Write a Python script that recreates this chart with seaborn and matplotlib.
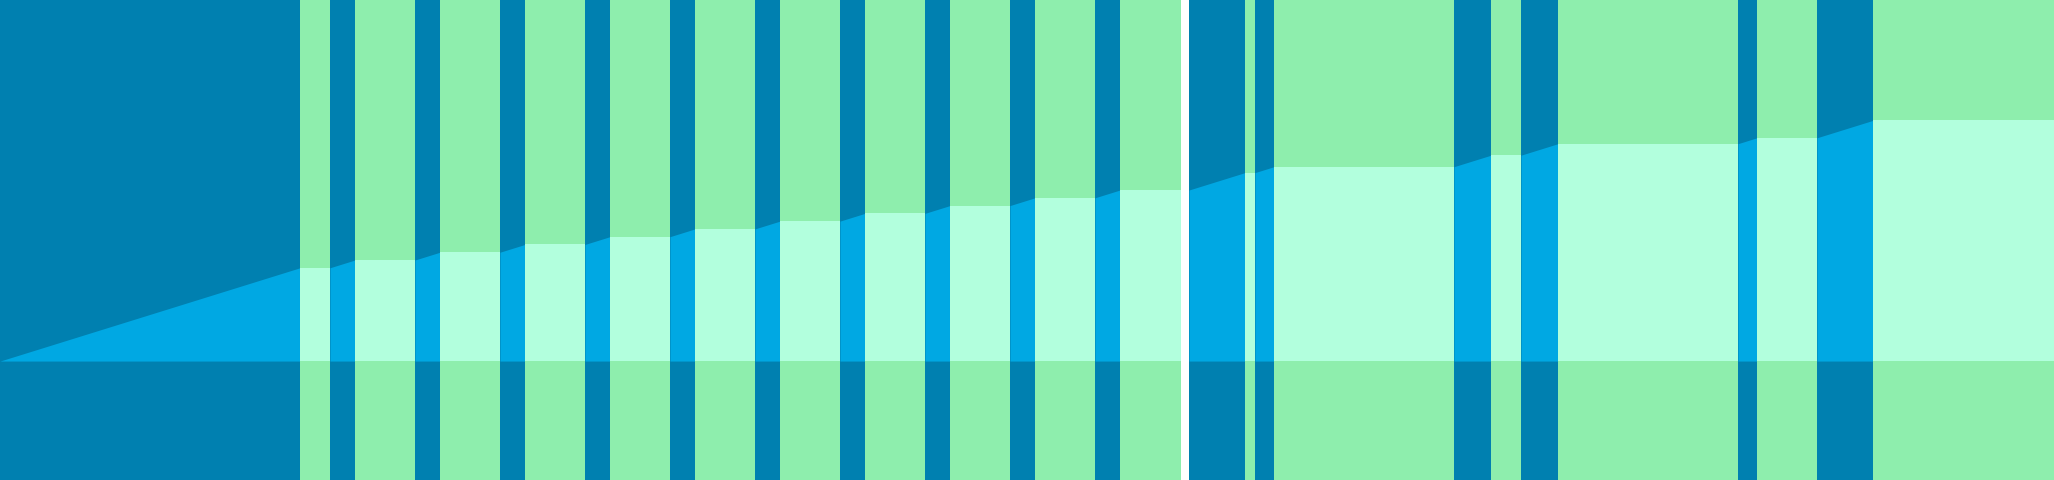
import matplotlib
matplotlib.use("Agg")
import matplotlib.pyplot as plt
import numpy as np
import pandas as pd
import seaborn as sns

# work log: one row per period, length in minutes
states = ["focus", "break", "focus", "break", "focus", "break", "focus", "break",
          "focus", "break", "focus", "break", "focus", "break", "focus", "break",
          "focus", "break", "focus", "break", "focus", "break", "gap", "focus",
          "break", "focus", "break", "focus", "break", "focus", "break", "focus",
          "break", "focus", "break"]
durations = [60, 6, 5, 12, 5, 12, 5, 12,
             5, 12, 5, 12, 5, 12, 5, 12,
             5, 12, 5, 12, 5, 12.2, 1.6, 11.2,
             2, 3.8, 36, 7.4, 6, 7.4, 36, 3.8,
             12, 11.2, 36.2]

band_colors = {"focus": "#0080B0", "break": "#8EEEAD"}
fill_colors = {"focus": "#00A8E3", "break": "#B2FFDD"}


def main():
    df = pd.DataFrame({"state": states, "minutes": durations})
    df["end"] = df["minutes"].cumsum()
    df["start"] = df["end"] - df["minutes"]
    focus_min = np.where(df["state"] == "focus", df["minutes"], 0.0)
    df["done_end"] = np.cumsum(focus_min)
    df["done_start"] = df["done_end"] - focus_min

    sns.set_theme(style="white")
    fig = plt.figure(figsize=(20.54, 4.8), dpi=100)
    ax = fig.add_axes([0, 0, 1, 1])

    ymin, ymax = -76.5, 232.2
    for _, row in df.iterrows():
        if row.state == "gap":
            continue
        ax.bar(row.start, ymax - ymin, width=row.minutes, bottom=ymin, align="edge",
               color=band_colors[row.state], linewidth=0, antialiased=False)
        ax.fill_between([row.start, row.end], [row.done_start, row.done_end], 0,
                        color=fill_colors[row.state], linewidth=0)

    ax.set_xlim(0, df["end"].iloc[-1])
    ax.set_ylim(ymin, ymax)
    ax.axis("off")
    fig.savefig("out.png", dpi=100)


if __name__ == "__main__":
    main()
